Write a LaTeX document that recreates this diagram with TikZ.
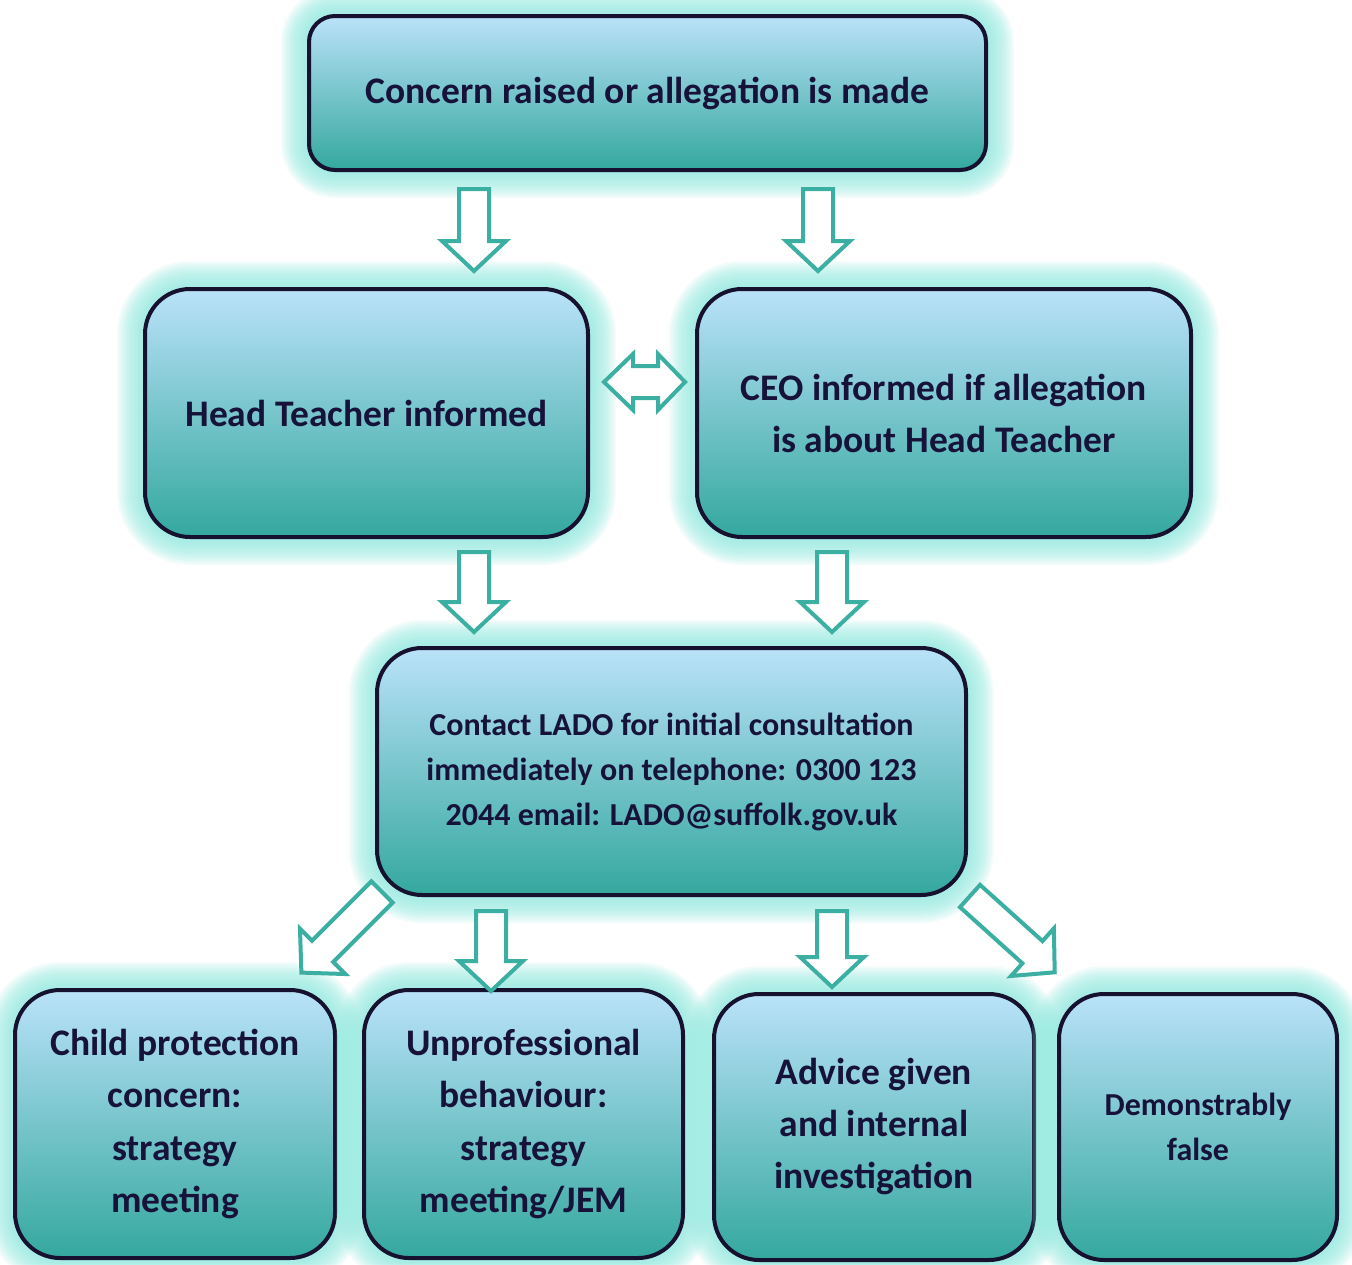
\documentclass[tikz,border=0pt]{standalone}
\usepackage{fontspec}
\setmainfont{Carlito}
\definecolor{glowc}{HTML}{94ECE2}
\definecolor{topc}{HTML}{BAE2F9}
\definecolor{botc}{HTML}{34A89E}
\definecolor{edgec}{HTML}{16112E}
\definecolor{arrc}{HTML}{3AAFA2}
\definecolor{txtc}{HTML}{16123A}
\tikzset{
  flowbox/.style={draw=edgec, line width=4pt, top color=topc, bottom color=botc,
    text=txtc, align=center, inner sep=0pt},
  arr/.style={draw=arrc, line width=4pt, fill=white, line join=miter},
}
% name, x1, y1, x2, y2, radius, font, text
\newcommand\gbox[8]{%
  \foreach \e in {28,26,...,2}
    \fill[glowc, opacity=0.11, rounded corners=#6+\e] (#2-\e,#3-\e) rectangle (#4+\e,#5+\e);
  \node[flowbox, rounded corners=#6, minimum width=#4-#2, minimum height=#5-#3, font=#7]
    (#1) at ({(#2+#4)/2},{(#3+#5)/2}) {#8};
}
% x, y, angle, length
\newcommand\barrow[4]{%
  \draw[arr, shift={(#1,#2)}, rotate=#3] (0,-15) -- ({#4-30},-15) -- ({#4-30},-32) -- (#4,0)
    -- ({#4-30},32) -- ({#4-30},15) -- (0,15) -- cycle;
}
\begin{document}
\begin{tikzpicture}[x=1pt,y=-1pt]
\useasboundingbox (0,0) rectangle (1352,1264);
\fill[white] (0,0) rectangle (1352,1264);
\gbox{top}{309}{16}{986}{170}{26}{\fontsize{37.5}{52}\selectfont\bfseries}{Concern raised or allegation is made}
\gbox{ht}{145}{289}{588}{537}{45}{\fontsize{37.5}{52}\selectfont\bfseries}{Head Teacher informed}
\gbox{ceo}{697}{289}{1191}{537}{45}{\fontsize{37.5}{52}\selectfont\bfseries}{CEO informed if allegation\\is about Head Teacher}
\gbox{lado}{377}{648}{966}{895}{45}{\fontsize{32}{45}\selectfont\bfseries}{Contact LADO for initial consultation\\immediately on telephone: 0300 123\\2044 email: LADO@suffolk.gov.uk}
\gbox{cp}{15}{990}{335}{1258}{45}{\fontsize{37.5}{52.5}\selectfont\bfseries}{Child protection\\concern:\\strategy\\meeting}
\gbox{up}{364}{990}{683}{1258}{45}{\fontsize{37.5}{52.5}\selectfont\bfseries}{Unprofessional\\behaviour:\\strategy\\meeting/JEM}
\gbox{adv}{714}{994}{1034}{1260}{45}{\fontsize{37.5}{52}\selectfont\bfseries}{Advice given\\and internal\\investigation}
\gbox{df}{1059}{994}{1337}{1260}{45}{\fontsize{32}{45}\selectfont\bfseries}{Demonstrably\\false}
\barrow{474}{189}{-90}{82}
\barrow{818}{189}{-90}{82}
\barrow{474}{552}{-90}{80}
\barrow{832}{552}{-90}{80}
\barrow{491}{911}{-90}{80}
\barrow{832}{911}{-90}{76}
\barrow{382}{892}{-135}{114}
\barrow{970}{896}{-42}{114}
\draw[arr] (604,382) -- (633,354) -- (633,366) -- (658,366) -- (658,354) -- (685,382)
  -- (658,410) -- (658,398) -- (633,398) -- (633,410) -- cycle;
\end{tikzpicture}
\end{document}
